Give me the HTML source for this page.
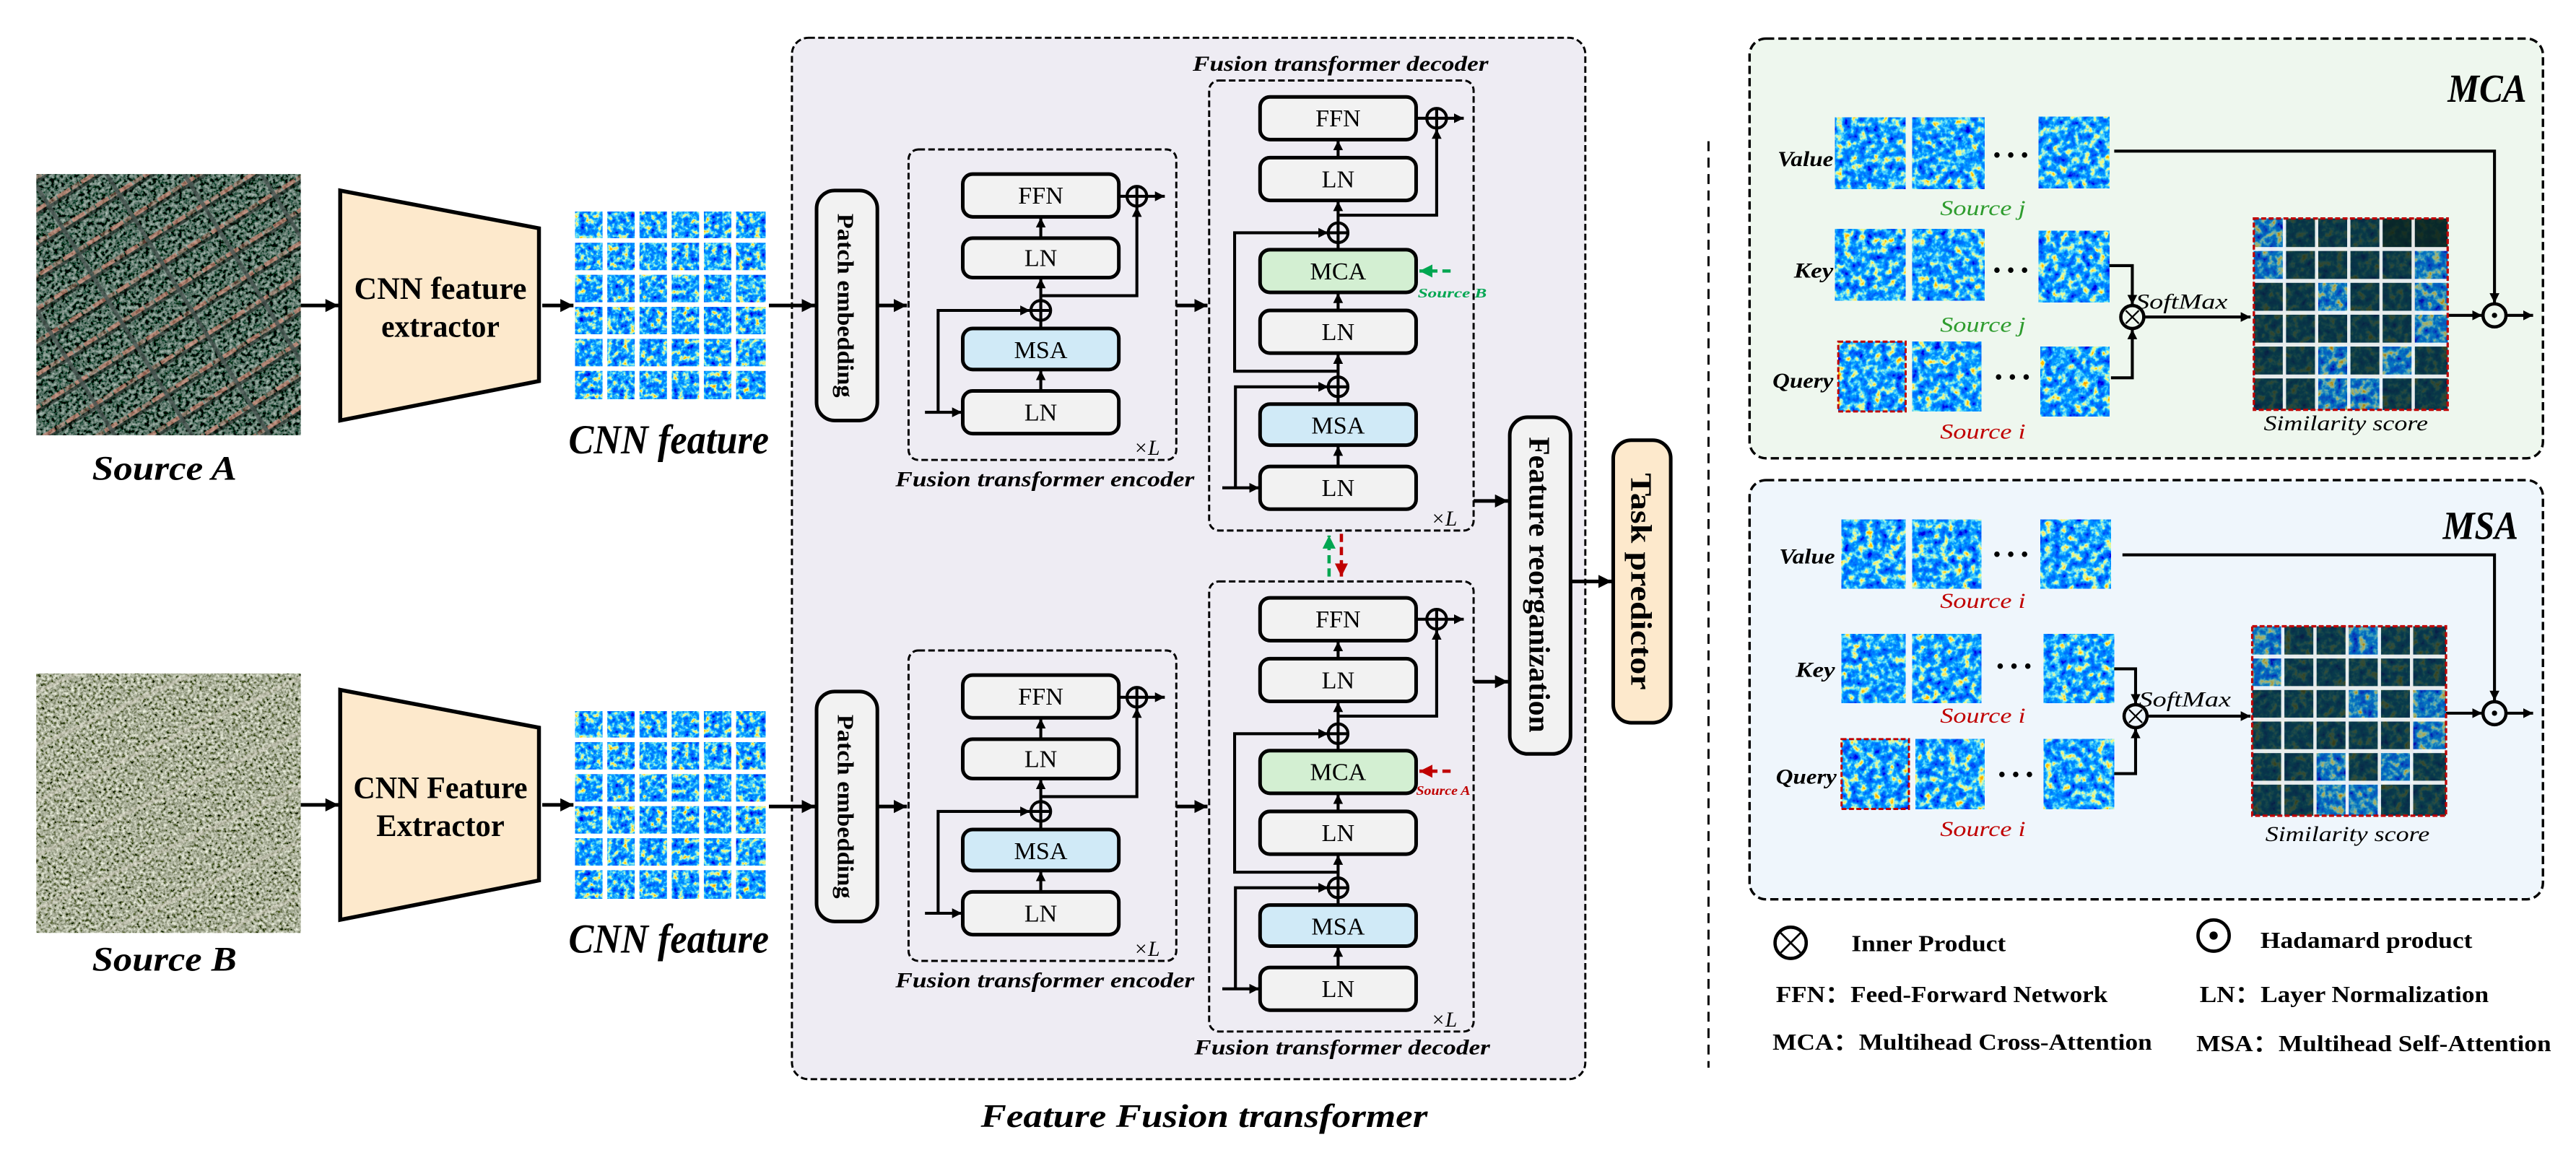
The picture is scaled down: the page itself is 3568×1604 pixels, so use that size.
<!DOCTYPE html>
<html><head><meta charset="utf-8"><style>
html,body{margin:0;padding:0;background:#fff;}
svg{display:block;}
text{font-family:"Liberation Serif",serif;}
</style></head><body>
<svg width="3568" height="1604" viewBox="0 0 1568 705" xmlns="http://www.w3.org/2000/svg">
<defs>
<marker id="ar" markerUnits="userSpaceOnUse" markerWidth="9" markerHeight="9" refX="8" refY="4" orient="auto"><path d="M0,0 L8,4 L0,8 z" fill="#000"/></marker>
<marker id="arS" markerUnits="userSpaceOnUse" markerWidth="7" markerHeight="7" refX="6" refY="3" orient="auto"><path d="M0,0 L6,3 L0,6 z" fill="#000"/></marker>
<marker id="arG" markerUnits="userSpaceOnUse" markerWidth="9" markerHeight="9" refX="8" refY="4" orient="auto"><path d="M0,0 L8,4 L0,8 z" fill="#00a651"/></marker>
<marker id="arR" markerUnits="userSpaceOnUse" markerWidth="9" markerHeight="9" refX="8" refY="4" orient="auto"><path d="M0,0 L8,4 L0,8 z" fill="#c00000"/></marker>
<filter id="heat" x="0" y="0" width="1" height="1" filterUnits="objectBoundingBox">
 <feTurbulence type="fractalNoise" baseFrequency="0.3" numOctaves="3" seed="4"/>
 <feColorMatrix type="matrix" values="1 0 0 0 0 1 0 0 0 0 1 0 0 0 0 0 0 0 0 1"/>
 <feComponentTransfer>
  <feFuncR type="table" tableValues="0 0 0 0 0 0 0.1 0.8 1 1 1"/>
  <feFuncG type="table" tableValues="0 0 0 0.1 0.2 0.35 0.75 1 0.6 0.3 0"/>
  <feFuncB type="table" tableValues="0.6 0.7 0.85 0.95 1 1 0.95 0.3 0 0 0"/>
 </feComponentTransfer>
</filter>
<filter id="heat2" x="0" y="0" width="1" height="1" filterUnits="objectBoundingBox">
 <feTurbulence type="fractalNoise" baseFrequency="0.22" numOctaves="3" seed="9"/>
 <feColorMatrix type="matrix" values="1 0 0 0 0 1 0 0 0 0 1 0 0 0 0 0 0 0 0 1"/>
 <feComponentTransfer>
  <feFuncR type="table" tableValues="0 0 0 0 0 0 0.1 0.8 1 1 1"/>
  <feFuncG type="table" tableValues="0 0 0 0.1 0.2 0.35 0.75 1 0.6 0.3 0"/>
  <feFuncB type="table" tableValues="0.6 0.7 0.85 0.95 1 1 0.95 0.3 0 0 0"/>
 </feComponentTransfer>
</filter>
<filter id="satA" x="0" y="0" width="1" height="1" filterUnits="objectBoundingBox">
 <feTurbulence type="fractalNoise" baseFrequency="0.45" numOctaves="3" seed="2"/>
 <feColorMatrix type="matrix" values="0.9 0 0 0 -0.36  1.0 0 0 0 -0.34  0.95 0 0 0 -0.35  0 0 0 0 1"/>
</filter>
<filter id="satB" x="0" y="0" width="1" height="1" filterUnits="objectBoundingBox">
 <feTurbulence type="fractalNoise" baseFrequency="0.55" numOctaves="3" seed="7"/>
 <feColorMatrix type="matrix" values="1.5 0 0 0 -0.35  1.5 0 0 0 -0.32  1.4 0 0 0 -0.38  0 0 0 0 1"/>
</filter>
<pattern id="stripA" width="17" height="17" patternUnits="userSpaceOnUse" patternTransform="rotate(-32)">
 <rect x="0" y="0" width="9" height="2.5" fill="#d98a78" opacity="0.65"/>
 <rect x="10" y="0" width="6" height="2.5" fill="#c98070" opacity="0.45"/>
 <rect x="0" y="2.5" width="17" height="2" fill="#101512" opacity="0.55"/>
</pattern>
<pattern id="roadA" width="40" height="40" patternUnits="userSpaceOnUse" patternTransform="rotate(58)">
 <rect x="0" y="0" width="40" height="2.5" fill="#4a5652" opacity="0.8"/>
</pattern>
<pattern id="stripB" width="30" height="30" patternUnits="userSpaceOnUse" patternTransform="rotate(-25)">
 <rect x="0" y="0" width="30" height="2.5" fill="#d0ccc0" opacity="0.45"/>
</pattern>
<clipPath id="cA"><rect x="22" y="106" width="161" height="159"/></clipPath>
<clipPath id="cB"><rect x="22" y="410" width="161" height="158"/></clipPath>
</defs>

<g clip-path="url(#cA)">
 <rect x="22" y="106" width="161" height="159" filter="url(#satA)"/>
 <rect x="22" y="106" width="161" height="159" fill="url(#stripA)"/>
 <rect x="22" y="106" width="161" height="159" fill="url(#roadA)"/>
</g>
<g clip-path="url(#cB)">
 <rect x="22" y="410" width="161" height="158" filter="url(#satB)"/>
 <rect x="22" y="410" width="161" height="158" fill="url(#stripB)"/>
</g>
<text x="100" y="292" font-size="21" font-weight="bold" font-style="italic" text-anchor="middle" textLength="88" lengthAdjust="spacingAndGlyphs">Source A</text>
<text x="100" y="591" font-size="21" font-weight="bold" font-style="italic" text-anchor="middle" textLength="88" lengthAdjust="spacingAndGlyphs">Source B</text>

<polygon points="207,116 328,139 328,232 207,256" fill="#fde9cc" stroke="#000" stroke-width="2.4"/>
<polygon points="207,420 328,443 328,536 207,560" fill="#fde9cc" stroke="#000" stroke-width="2.4"/>
<g font-size="19" font-weight="bold" text-anchor="middle">
 <text x="268" y="182" textLength="105" lengthAdjust="spacingAndGlyphs">CNN feature</text>
 <text x="268" y="205" textLength="72" lengthAdjust="spacingAndGlyphs">extractor</text>
 <text x="268" y="486" textLength="106" lengthAdjust="spacingAndGlyphs">CNN Feature</text>
 <text x="268" y="509" textLength="78" lengthAdjust="spacingAndGlyphs">Extractor</text>
</g>

<g id="grid1">
 <rect x="350" y="129" width="116" height="114" filter="url(#heat)"/>
 <g fill="#fff">
  <rect x="366.7" y="127" width="2.9" height="118"/><rect x="386.3" y="127" width="2.9" height="118"/><rect x="405.9" y="127" width="2.9" height="118"/><rect x="425.5" y="127" width="2.9" height="118"/><rect x="445.1" y="127" width="2.9" height="118"/>
  <rect x="348" y="145" width="120" height="2.8"/><rect x="348" y="164.5" width="120" height="2.8"/><rect x="348" y="184" width="120" height="2.8"/><rect x="348" y="203.5" width="120" height="2.8"/><rect x="348" y="223" width="120" height="2.8"/>
 </g>
</g>
<g transform="translate(0,304)">
 <rect x="350" y="129" width="116" height="114" filter="url(#heat)"/>
 <g fill="#fff">
  <rect x="366.7" y="127" width="2.9" height="118"/><rect x="386.3" y="127" width="2.9" height="118"/><rect x="405.9" y="127" width="2.9" height="118"/><rect x="425.5" y="127" width="2.9" height="118"/><rect x="445.1" y="127" width="2.9" height="118"/>
  <rect x="348" y="145" width="120" height="2.8"/><rect x="348" y="164.5" width="120" height="2.8"/><rect x="348" y="184" width="120" height="2.8"/><rect x="348" y="203.5" width="120" height="2.8"/><rect x="348" y="223" width="120" height="2.8"/>
 </g>
</g>
<text x="407" y="276" font-size="25" font-weight="bold" font-style="italic" text-anchor="middle" textLength="122" lengthAdjust="spacingAndGlyphs">CNN feature</text>
<text x="407" y="580" font-size="25" font-weight="bold" font-style="italic" text-anchor="middle" textLength="122" lengthAdjust="spacingAndGlyphs">CNN feature</text>

<rect x="482" y="23" width="483" height="634" rx="10" fill="#eeecf3" stroke="#000" stroke-width="1.3" stroke-dasharray="4 2"/>
<text x="733" y="686" font-size="20" font-weight="bold" font-style="italic" text-anchor="middle" textLength="272" lengthAdjust="spacingAndGlyphs">Feature Fusion transformer</text>

<g>
 <rect x="497" y="116" width="37" height="140" rx="11" fill="#f2f2f2" stroke="#000" stroke-width="2.2"/>
 <text transform="translate(510,186) rotate(90)" font-size="14" font-weight="bold" text-anchor="middle" textLength="112" lengthAdjust="spacingAndGlyphs">Patch embedding</text>
 <rect x="497" y="421" width="37" height="140" rx="11" fill="#f2f2f2" stroke="#000" stroke-width="2.2"/>
 <text transform="translate(510,491) rotate(90)" font-size="14" font-weight="bold" text-anchor="middle" textLength="112" lengthAdjust="spacingAndGlyphs">Patch embedding</text>
</g>

<g stroke="#000" stroke-width="2.2" fill="none">
 <line x1="183" y1="186" x2="206" y2="186" marker-end="url(#ar)"/>
 <line x1="183" y1="490" x2="206" y2="490" marker-end="url(#ar)"/>
 <line x1="330" y1="186" x2="349" y2="186" marker-end="url(#ar)"/>
 <line x1="330" y1="490" x2="349" y2="490" marker-end="url(#ar)"/>
 <line x1="468" y1="186" x2="496" y2="186" marker-end="url(#ar)"/>
 <line x1="468" y1="491" x2="496" y2="491" marker-end="url(#ar)"/>
 <line x1="534" y1="186" x2="552" y2="186" marker-end="url(#ar)"/>
 <line x1="534" y1="491" x2="552" y2="491" marker-end="url(#ar)"/>
 <line x1="716" y1="186" x2="735" y2="186" marker-end="url(#ar)"/>
 <line x1="716" y1="491" x2="735" y2="491" marker-end="url(#ar)"/>
</g>

<g id="enc">
 <rect x="553" y="91" width="163" height="189" rx="6" fill="none" stroke="#000" stroke-width="1.3" stroke-dasharray="4 2"/>
 <g stroke="#000" stroke-width="2.2">
  <rect x="586" y="106" width="95" height="26" rx="6" fill="#f2f2f2"/>
  <rect x="586" y="145" width="95" height="24" rx="6" fill="#f2f2f2"/>
  <rect x="586" y="200" width="95" height="25" rx="6" fill="#d0eaf7"/>
  <rect x="586" y="238" width="95" height="26" rx="6" fill="#f2f2f2"/>
 </g>
 <g font-size="15" text-anchor="middle">
  <text x="633.5" y="124">FFN</text><text x="633.5" y="162">LN</text><text x="633.5" y="218">MSA</text><text x="633.5" y="256">LN</text>
 </g>
 <g stroke="#000" stroke-width="1.8" fill="none">
  <line x1="633.5" y1="238" x2="633.5" y2="225.5" marker-end="url(#arS)"/>
  <line x1="633.5" y1="200" x2="633.5" y2="195"/>
  <line x1="633.5" y1="183" x2="633.5" y2="169.5" marker-end="url(#arS)"/>
  <line x1="563" y1="251" x2="585.5" y2="251" marker-end="url(#arS)"/>
  <polyline points="571,251 571,189 627,189" marker-end="url(#arS)"/>
  <polyline points="633.5,180 692,180 692,126" marker-end="url(#arS)"/>
  <line x1="633.5" y1="145" x2="633.5" y2="132.5" marker-end="url(#arS)"/>
  <line x1="681" y1="119.5" x2="686" y2="119.5"/>
  <line x1="698" y1="119.5" x2="709" y2="119.5" marker-end="url(#arS)"/>
  <circle cx="633.5" cy="189" r="6"/><line x1="627.5" y1="189" x2="639.5" y2="189"/><line x1="633.5" y1="183" x2="633.5" y2="195"/>
  <circle cx="692" cy="119.5" r="6"/><line x1="686" y1="119.5" x2="698" y2="119.5"/><line x1="692" y1="113.5" x2="692" y2="125.5"/>
 </g>
 <text x="690" y="277" font-size="13" font-style="italic">×L</text>
 <text x="636" y="296" font-size="13" font-style="italic" font-weight="bold" text-anchor="middle" textLength="182" lengthAdjust="spacingAndGlyphs">Fusion transformer encoder</text>
</g>
<use href="#enc" transform="translate(0,305)"/>

<g id="dec">
 <rect x="736" y="49" width="161" height="274" rx="6" fill="none" stroke="#000" stroke-width="1.3" stroke-dasharray="4 2"/>
 <g stroke="#000" stroke-width="2.2">
  <rect x="767" y="59" width="95" height="26" rx="6" fill="#f2f2f2"/>
  <rect x="767" y="96" width="95" height="26" rx="6" fill="#f2f2f2"/>
  <rect x="767" y="152" width="95" height="26" rx="6" fill="#d3efd2"/>
  <rect x="767" y="189" width="95" height="26" rx="6" fill="#f2f2f2"/>
  <rect x="767" y="246" width="95" height="25" rx="6" fill="#d0eaf7"/>
  <rect x="767" y="284" width="95" height="26" rx="6" fill="#f2f2f2"/>
 </g>
 <g font-size="15" text-anchor="middle">
  <text x="814.5" y="77">FFN</text><text x="814.5" y="114">LN</text><text x="814.5" y="170">MCA</text><text x="814.5" y="207">LN</text><text x="814.5" y="264">MSA</text><text x="814.5" y="302">LN</text>
 </g>
 <g stroke="#000" stroke-width="1.8" fill="none">
  <line x1="744" y1="297" x2="766.5" y2="297" marker-end="url(#arS)"/>
  <line x1="814.5" y1="284" x2="814.5" y2="271.5" marker-end="url(#arS)"/>
  <polyline points="752,297 752,235.5 808.5,235.5" marker-end="url(#arS)"/>
  <line x1="814.5" y1="246" x2="814.5" y2="241.5"/>
  <line x1="814.5" y1="229.5" x2="814.5" y2="215.5" marker-end="url(#arS)"/>
  <polyline points="814.5,226 751.5,226 751.5,141.7 808.5,141.7" marker-end="url(#arS)"/>
  <line x1="814.5" y1="189" x2="814.5" y2="178.5" marker-end="url(#arS)"/>
  <line x1="814.5" y1="152" x2="814.5" y2="147.7"/>
  <line x1="814.5" y1="135.7" x2="814.5" y2="122.5" marker-end="url(#arS)"/>
  <polyline points="814.5,131 874.5,131 874.5,78.5" marker-end="url(#arS)"/>
  <line x1="814.5" y1="96" x2="814.5" y2="85.5" marker-end="url(#arS)"/>
  <line x1="862" y1="72" x2="868.5" y2="72"/>
  <line x1="880.5" y1="72" x2="891" y2="72" marker-end="url(#arS)"/>
  <circle cx="814.5" cy="235.5" r="6"/><line x1="808.5" y1="235.5" x2="820.5" y2="235.5"/><line x1="814.5" y1="229.5" x2="814.5" y2="241.5"/>
  <circle cx="814.5" cy="141.7" r="6"/><line x1="808.5" y1="141.7" x2="820.5" y2="141.7"/><line x1="814.5" y1="135.7" x2="814.5" y2="147.7"/>
  <circle cx="874.5" cy="72" r="6"/><line x1="868.5" y1="72" x2="880.5" y2="72"/><line x1="874.5" y1="66" x2="874.5" y2="78"/>
 </g>
 <text x="871" y="320" font-size="13" font-style="italic">×L</text>
</g>
<use href="#dec" transform="translate(0,305)"/>
<text x="816" y="43" font-size="13" font-style="italic" font-weight="bold" text-anchor="middle" textLength="180" lengthAdjust="spacingAndGlyphs">Fusion transformer decoder</text>
<text x="817" y="642" font-size="13" font-style="italic" font-weight="bold" text-anchor="middle" textLength="180" lengthAdjust="spacingAndGlyphs">Fusion transformer decoder</text>

<line x1="883" y1="165" x2="864" y2="165" stroke="#00a651" stroke-width="2" stroke-dasharray="5 3" marker-end="url(#arG)"/>
<text x="863" y="181" font-size="8" font-weight="bold" font-style="italic" fill="#00a651" textLength="42" lengthAdjust="spacingAndGlyphs">Source B</text>
<line x1="883" y1="469.5" x2="864" y2="469.5" stroke="#c00000" stroke-width="2" stroke-dasharray="5 3" marker-end="url(#arR)"/>
<text x="862" y="484" font-size="8" font-weight="bold" font-style="italic" fill="#c00000" textLength="33" lengthAdjust="spacingAndGlyphs">Source A</text>
<line x1="809" y1="351" x2="809" y2="326" stroke="#00a651" stroke-width="2" stroke-dasharray="5 3" marker-end="url(#arG)"/>
<line x1="816.5" y1="325" x2="816.5" y2="351" stroke="#c00000" stroke-width="2" stroke-dasharray="5 3" marker-end="url(#arR)"/>

<g stroke="#000" stroke-width="2.2" fill="none">
 <line x1="897" y1="305" x2="918" y2="305" marker-end="url(#ar)"/>
 <line x1="897" y1="415" x2="918" y2="415" marker-end="url(#ar)"/>
 <line x1="956" y1="354" x2="981" y2="354" marker-end="url(#ar)"/>
</g>
<rect x="919" y="254" width="37" height="205" rx="11" fill="#f2f2f2" stroke="#000" stroke-width="2.2"/>
<text transform="translate(931,356) rotate(90)" font-size="18" font-weight="bold" text-anchor="middle" textLength="180" lengthAdjust="spacingAndGlyphs">Feature reorganization</text>
<rect x="982" y="268" width="35" height="172" rx="11" fill="#fde9cc" stroke="#000" stroke-width="2.2"/>
<text transform="translate(993,354) rotate(90)" font-size="18" font-weight="bold" text-anchor="middle" textLength="132" lengthAdjust="spacingAndGlyphs">Task predictor</text>

<line x1="1040" y1="86" x2="1040" y2="650" stroke="#000" stroke-width="1.3" stroke-dasharray="6 4"/>

<rect x="1065" y="23.5" width="483" height="255.5" rx="10" fill="#eef7ee" stroke="#000" stroke-width="1.5" stroke-dasharray="5 2.5"/>
<text x="1538" y="62" font-size="24" font-weight="bold" font-style="italic" text-anchor="end" textLength="48" lengthAdjust="spacingAndGlyphs">MCA</text>
<g>
 <rect x="1117" y="71.5" width="43" height="43.5" filter="url(#heat2)"/>
 <rect x="1164" y="71.5" width="44" height="43.5" filter="url(#heat2)"/>
 <rect x="1241" y="71" width="43" height="43.5" filter="url(#heat2)"/>
 <rect x="1117" y="139.5" width="43" height="43.5" filter="url(#heat2)"/>
 <rect x="1164" y="139.5" width="44" height="43.5" filter="url(#heat2)"/>
 <rect x="1241" y="140.5" width="43" height="43.5" filter="url(#heat2)"/>
 <rect x="1119" y="208" width="41" height="42.5" filter="url(#heat2)"/>
 <rect x="1164" y="208" width="42" height="42.5" filter="url(#heat2)"/>
 <rect x="1242" y="211" width="42" height="42.5" filter="url(#heat2)"/>
 <rect x="1119" y="208" width="41" height="42.5" fill="none" stroke="#c00000" stroke-width="1.3" stroke-dasharray="3 1.5"/>
</g>
<g font-size="14" fill="#000" text-anchor="middle"><text x="1224" y="99">• • •</text><text x="1224" y="169">• • •</text><text x="1225" y="234">• • •</text></g>
<g font-size="13" font-style="italic" font-weight="bold" text-anchor="end">
 <text x="1116" y="101" textLength="34" lengthAdjust="spacingAndGlyphs">Value</text>
 <text x="1116" y="169" textLength="24" lengthAdjust="spacingAndGlyphs">Key</text>
 <text x="1116" y="236" textLength="37" lengthAdjust="spacingAndGlyphs">Query</text>
</g>
<g font-size="13" font-style="italic" text-anchor="middle">
 <text x="1207" y="131" fill="#2e9c2e" textLength="52" lengthAdjust="spacingAndGlyphs">Source j</text>
 <text x="1207" y="202" fill="#2e9c2e" textLength="52" lengthAdjust="spacingAndGlyphs">Source j</text>
 <text x="1207" y="267" fill="#c00000" textLength="52" lengthAdjust="spacingAndGlyphs">Source i</text>
</g>
<g stroke="#000" stroke-width="1.8" fill="none">
 <polyline points="1287,92 1518.5,92 1518.5,184.5" marker-end="url(#arS)"/>
 <polyline points="1284,161.7 1298,161.7 1298,185.5" marker-end="url(#arS)"/>
 <polyline points="1285,230 1298,230 1298,200.5" marker-end="url(#arS)"/>
 <line x1="1305" y1="193" x2="1370" y2="193" marker-end="url(#arS)"/>
 <line x1="1490" y1="192" x2="1511" y2="192" marker-end="url(#arS)"/>
 <line x1="1525.5" y1="192" x2="1542" y2="192" marker-end="url(#arS)"/>
 <circle cx="1298" cy="193" r="7" stroke-width="2"/>
 <line x1="1294" y1="189" x2="1302" y2="197" stroke-width="1"/><line x1="1302" y1="189" x2="1294" y2="197" stroke-width="1"/>
 <circle cx="1518.5" cy="192" r="7" stroke-width="2"/>
</g>
<circle cx="1518.5" cy="192" r="1.6" fill="#000"/>
<text x="1328" y="188" font-size="13" font-style="italic" text-anchor="middle" textLength="56" lengthAdjust="spacingAndGlyphs">SoftMax</text>
<g>
 <rect x="1372" y="133" width="118" height="116.5" filter="url(#heat2)"/>
 <rect x="1372" y="133" width="118" height="116.5" fill="#0d2f45" opacity="0.35"/>
 <g fill="#0a2620" opacity="0.75">
  <rect x="1391.6" y="133" width="58.8" height="19.4"/><rect x="1450.4" y="133" width="39.6" height="19.4"/>
  <rect x="1391.6" y="152.4" width="58.8" height="19.4"/><rect x="1450.4" y="152.4" width="19.6" height="19.4"/>
  <rect x="1372" y="171.8" width="39.2" height="19.4"/><rect x="1430.8" y="171.8" width="39.2" height="19.4"/>
  <rect x="1372" y="191.2" width="58.8" height="19.4"/><rect x="1430.8" y="191.2" width="39.2" height="19.4"/>
  <rect x="1372" y="210.6" width="39.2" height="19.4"/><rect x="1430.8" y="210.6" width="19.6" height="19.4"/><rect x="1470" y="210.6" width="20" height="19.4"/>
  <rect x="1372" y="230" width="39.2" height="19.5"/><rect x="1450.4" y="230" width="39.6" height="19.5"/>
 </g>
 <rect x="1450.4" y="133" width="39.6" height="19.4" fill="#0a1f18" opacity="0.6"/>
 <g fill="#fff" opacity="0.9">
  <rect x="1389.6" y="133" width="2" height="116.5"/><rect x="1409.2" y="133" width="2" height="116.5"/><rect x="1428.8" y="133" width="2" height="116.5"/><rect x="1448.4" y="133" width="2" height="116.5"/><rect x="1468" y="133" width="2" height="116.5"/>
  <rect x="1372" y="150.4" width="118" height="2.4"/><rect x="1372" y="169.8" width="118" height="2.4"/><rect x="1372" y="189.2" width="118" height="2.4"/><rect x="1372" y="208.6" width="118" height="2.4"/><rect x="1372" y="228" width="118" height="2.4"/>
 </g>
 <rect x="1372" y="133" width="118" height="116.5" fill="none" stroke="#c00000" stroke-width="1.4" stroke-dasharray="3 1.5"/>
</g>
<text x="1428" y="262" font-size="13" font-style="italic" text-anchor="middle" textLength="100" lengthAdjust="spacingAndGlyphs">Similarity score</text>

<rect x="1065" y="292.3" width="483" height="255.2" rx="10" fill="#eff6fc" stroke="#000" stroke-width="1.5" stroke-dasharray="5 2.5"/>
<text x="1533" y="328" font-size="24" font-weight="bold" font-style="italic" text-anchor="end" textLength="46" lengthAdjust="spacingAndGlyphs">MSA</text>
<g>
 <rect x="1121" y="316.4" width="39" height="42" filter="url(#heat2)"/>
 <rect x="1164" y="316.4" width="42" height="42" filter="url(#heat2)"/>
 <rect x="1242" y="316.4" width="43" height="42" filter="url(#heat2)"/>
 <rect x="1121" y="386" width="39" height="42" filter="url(#heat2)"/>
 <rect x="1164" y="386" width="42" height="42" filter="url(#heat2)"/>
 <rect x="1244" y="386" width="43" height="42" filter="url(#heat2)"/>
 <rect x="1121" y="450" width="41" height="42.5" filter="url(#heat2)"/>
 <rect x="1166" y="450" width="42" height="42.5" filter="url(#heat2)"/>
 <rect x="1244" y="450" width="43" height="42.5" filter="url(#heat2)"/>
 <rect x="1121" y="450" width="41" height="42.5" fill="none" stroke="#c00000" stroke-width="1.3" stroke-dasharray="3 1.5"/>
</g>
<g font-size="14" fill="#000" text-anchor="middle"><text x="1224" y="342">• • •</text><text x="1226" y="410">• • •</text><text x="1227" y="476">• • •</text></g>
<g font-size="13" font-style="italic" font-weight="bold" text-anchor="end">
 <text x="1117" y="343" textLength="34" lengthAdjust="spacingAndGlyphs">Value</text>
 <text x="1117" y="412" textLength="24" lengthAdjust="spacingAndGlyphs">Key</text>
 <text x="1118" y="477" textLength="37" lengthAdjust="spacingAndGlyphs">Query</text>
</g>
<g font-size="13" font-style="italic" text-anchor="middle" fill="#c00000">
 <text x="1207" y="370" textLength="52" lengthAdjust="spacingAndGlyphs">Source i</text>
 <text x="1207" y="440" textLength="52" lengthAdjust="spacingAndGlyphs">Source i</text>
 <text x="1207" y="509" textLength="52" lengthAdjust="spacingAndGlyphs">Source i</text>
</g>
<g stroke="#000" stroke-width="1.8" fill="none">
 <polyline points="1292,337.8 1518.5,337.8 1518.5,426.5" marker-end="url(#arS)"/>
 <polyline points="1287,407.2 1300,407.2 1300,428.5" marker-end="url(#arS)"/>
 <polyline points="1287,471 1300,471 1300,443.5" marker-end="url(#arS)"/>
 <line x1="1307" y1="436" x2="1370" y2="436" marker-end="url(#arS)"/>
 <line x1="1489" y1="434.2" x2="1511" y2="434.2" marker-end="url(#arS)"/>
 <line x1="1525.5" y1="434.2" x2="1542" y2="434.2" marker-end="url(#arS)"/>
 <circle cx="1300" cy="436" r="7" stroke-width="2"/>
 <line x1="1296" y1="432" x2="1304" y2="440" stroke-width="1"/><line x1="1304" y1="432" x2="1296" y2="440" stroke-width="1"/>
 <circle cx="1518.5" cy="434.2" r="7" stroke-width="2"/>
</g>
<circle cx="1518.5" cy="434.2" r="1.6" fill="#000"/>
<text x="1330" y="430" font-size="13" font-style="italic" text-anchor="middle" textLength="56" lengthAdjust="spacingAndGlyphs">SoftMax</text>
<g>
 <rect x="1371" y="381.3" width="118" height="115.3" filter="url(#heat2)"/>
 <rect x="1371" y="381.3" width="118" height="115.3" fill="#0d2f45" opacity="0.35"/>
 <g fill="#0a2620" opacity="0.72">
  <rect x="1390.6" y="381.3" width="39.2" height="19.2"/><rect x="1449.4" y="381.3" width="39.6" height="19.2"/>
  <rect x="1390.6" y="400.5" width="98.4" height="19.2"/>
  <rect x="1371" y="419.7" width="58.8" height="19.2"/><rect x="1449.4" y="419.7" width="19.6" height="19.2"/>
  <rect x="1371" y="438.9" width="98" height="19.2"/>
  <rect x="1371" y="458.1" width="39.2" height="19.2"/><rect x="1429.8" y="458.1" width="19.6" height="19.2"/><rect x="1469" y="458.1" width="20" height="19.2"/>
  <rect x="1371" y="477.3" width="39.2" height="19.3"/><rect x="1449.4" y="477.3" width="39.6" height="19.3"/>
 </g>
 <g fill="#fff" opacity="0.9">
  <rect x="1388.6" y="381.3" width="2" height="115.3"/><rect x="1408.2" y="381.3" width="2" height="115.3"/><rect x="1427.8" y="381.3" width="2" height="115.3"/><rect x="1447.4" y="381.3" width="2" height="115.3"/><rect x="1467" y="381.3" width="2" height="115.3"/>
  <rect x="1371" y="398.5" width="118" height="2.4"/><rect x="1371" y="417.7" width="118" height="2.4"/><rect x="1371" y="436.9" width="118" height="2.4"/><rect x="1371" y="456.1" width="118" height="2.4"/><rect x="1371" y="475.3" width="118" height="2.4"/>
 </g>
 <rect x="1371" y="381.3" width="118" height="115.3" fill="none" stroke="#c00000" stroke-width="1.4" stroke-dasharray="3 1.5"/>
</g>
<text x="1429" y="512" font-size="13" font-style="italic" text-anchor="middle" textLength="100" lengthAdjust="spacingAndGlyphs">Similarity score</text>

<g stroke="#000" fill="none" stroke-width="2">
 <circle cx="1090" cy="574" r="9.5"/>
 <line x1="1084" y1="568" x2="1096" y2="580" stroke-width="1.2"/><line x1="1096" y1="568" x2="1084" y2="580" stroke-width="1.2"/>
 <circle cx="1347.5" cy="569.6" r="9.5"/>
</g>
<circle cx="1347.5" cy="569.6" r="2.5" fill="#000"/>
<g font-size="14" font-weight="bold">
 <text x="1127" y="579" textLength="94" lengthAdjust="spacingAndGlyphs">Inner Product</text>
 <text x="1376" y="577" textLength="129" lengthAdjust="spacingAndGlyphs">Hadamard product</text>
 <text x="1081" y="610" textLength="202" lengthAdjust="spacingAndGlyphs">FFN：Feed-Forward Network</text>
 <text x="1339" y="610" textLength="176" lengthAdjust="spacingAndGlyphs">LN：Layer Normalization</text>
 <text x="1079" y="639" textLength="231" lengthAdjust="spacingAndGlyphs">MCA：Multihead Cross-Attention</text>
 <text x="1337" y="640" textLength="216" lengthAdjust="spacingAndGlyphs">MSA：Multihead Self-Attention</text>
</g>
</svg>
</body></html>
